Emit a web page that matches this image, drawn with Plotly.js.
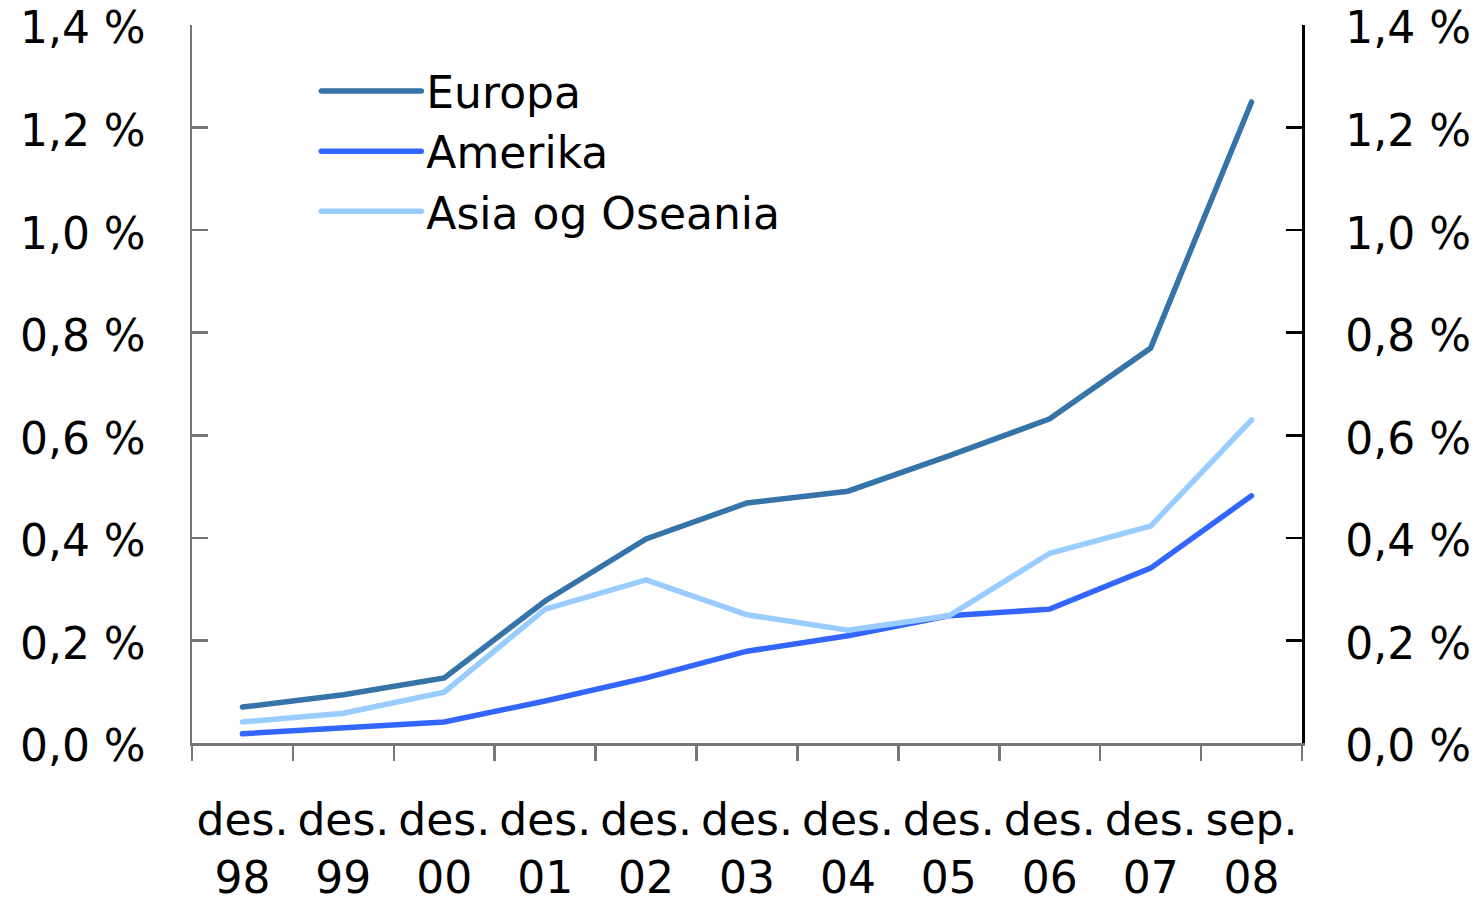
<!DOCTYPE html>
<html>
<head>
<meta charset="utf-8">
<script src="https://cdn.plot.ly/plotly-3.0.1.min.js"></script>
<style>
html,body{margin:0;padding:0;background:#fff;}
#chart{width:1483px;height:901px;}
#chart .scatterlayer path.js-line, #chart .legendlines path{stroke-linecap:round;}
</style>
</head>
<body>
<div id="chart"></div>
<script>
const categories = ["des.<br>98","des.<br>99","des.<br>00","des.<br>01","des.<br>02","des.<br>03","des.<br>04","des.<br>05","des.<br>06","des.<br>07","sep.<br>08"];
const europa = [0.070,0.094,0.127,0.277,0.398,0.468,0.491,0.560,0.632,0.770,1.250];
const amerika = [0.018,0.029,0.041,0.082,0.127,0.179,0.209,0.248,0.261,0.341,0.482];
const asia = [0.041,0.058,0.099,0.261,0.318,0.250,0.220,0.248,0.370,0.423,0.630];
const yTicks = [0,0.2,0.4,0.6,0.8,1.0,1.2,1.4];
const yTickText = ["0,0 %","0,2 %","0,4 %","0,6 %","0,8 %","1,0 %","1,2 %","1,4 %"];

const font = {family:"DejaVu Sans, Liberation Sans, Arial, sans-serif", size:44, color:"#000"};
const traces = [
  {x:categories, y:europa, name:"Europa", type:"scatter", mode:"lines", line:{color:"#3573a8", width:5.5}},
  {x:categories, y:amerika, name:"Amerika", type:"scatter", mode:"lines", line:{color:"#3366ff", width:5.5}},
  {x:categories, y:asia, name:"Asia og Oseania", type:"scatter", mode:"lines", line:{color:"#99ccff", width:5.5}},
  {x:categories, y:europa, yaxis:"y2", type:"scatter", mode:"lines", line:{color:"rgba(0,0,0,0)", width:0}, showlegend:false, hoverinfo:"skip"}
];
const layout = {
  width:1483, height:901,
  margin:{l:192, r:181, t:25, b:158},
  paper_bgcolor:"#fff", plot_bgcolor:"#fff",
  font:font,
  showlegend:true,
  legend:{x:0.112, y:0.957, xanchor:"left", yanchor:"top", font:{size:44}, itemwidth:100, tracegroupgap:0, bgcolor:"rgba(0,0,0,0)"},
  xaxis:{type:"category", range:[-0.5,10.5], showgrid:false, zeroline:false, showline:true, linecolor:"#777", linewidth:2.5,
         ticks:"outside", ticklen:15, tickwidth:2.5, tickcolor:"#777", tickson:"boundaries", tickangle:0, tickfont:{size:44}, ticklabelstandoff:37, ticklabeloverflow:"allow"},
  yaxis:{range:[0,1.4], tickvals:yTicks, ticktext:yTickText, showgrid:false, zeroline:false, showline:true, ticklabeloverflow:"allow", ticklabelshift:3,
         linecolor:"#777", linewidth:2.5, ticks:"inside", ticklen:16, tickwidth:2.5, tickcolor:"#777", tickfont:{size:44}, ticklabelstandoff:35},
  yaxis2:{range:[0,1.4], overlaying:"y", side:"right", tickvals:yTicks, ticktext:yTickText, showgrid:false, zeroline:false, showline:true, ticklabeloverflow:"allow", ticklabelshift:3,
         linecolor:"#000", linewidth:2.5, ticks:"inside", ticklen:16, tickwidth:2.5, tickcolor:"#000", tickfont:{size:44}, ticklabelstandoff:32}
};
Plotly.newPlot("chart", traces, layout, {displayModeBar:false, staticPlot:true});
</script>
</body>
</html>
